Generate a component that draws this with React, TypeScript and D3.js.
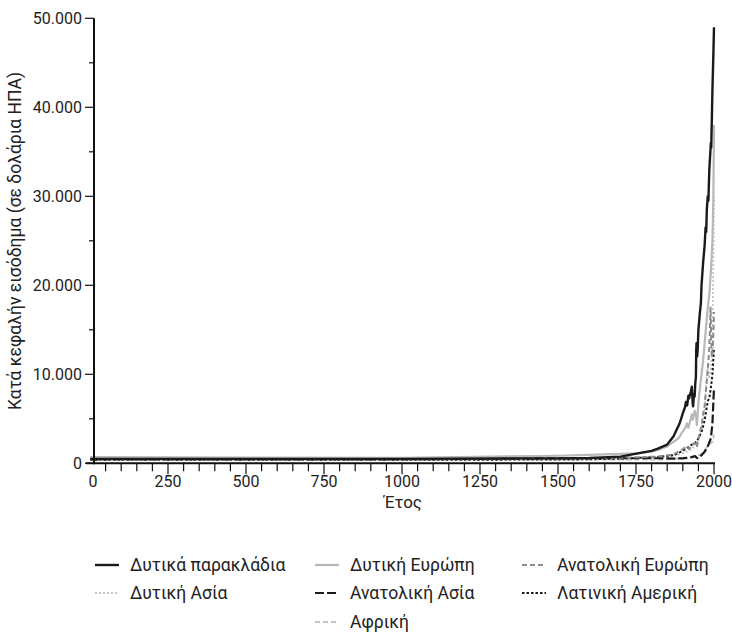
import React from "react";
import * as d3 from "d3";

// ---- data (year, per-capita income) ----
const westernOffshoots: [number, number][] = [
  [1, 500], [1000, 500], [1500, 550], [1600, 600], [1700, 750], [1760, 1150], [1800, 1400],
  [1820, 1650], [1850, 2100], [1870, 3000], [1890, 4500], [1900, 5600], [1907, 6300], [1910, 6900],
  [1914, 6500], [1918, 7600], [1920, 7300], [1926, 8100], [1929, 8600], [1932, 6600], [1933, 6400],
  [1936, 7800], [1938, 7500], [1940, 9000], [1942, 9700], [1943, 12600], [1944, 13500], [1946, 12000],
  [1948, 13000], [1950, 15000], [1953, 16200], [1955, 17000], [1958, 18000], [1960, 20000], [1965, 22500],
  [1970, 24500], [1973, 26500], [1975, 26000], [1977, 28500], [1980, 30000], [1982, 29500], [1985, 33000],
  [1990, 36000], [1991, 35500], [1993, 38500], [1995, 42000], [1998, 46000], [2000, 49000],
];
const westernEurope: [number, number][] = [
  [1, 700], [1000, 600], [1500, 850], [1600, 950], [1700, 1050], [1750, 1120], [1800, 1300],
  [1820, 1500], [1850, 1900], [1870, 2400], [1880, 2650], [1890, 3000], [1900, 3600], [1910, 4100],
  [1913, 4500], [1916, 4300], [1918, 4000], [1920, 4300], [1925, 4900], [1929, 5500], [1932, 4900],
  [1935, 5300], [1938, 5900], [1940, 5700], [1943, 5200], [1945, 4300], [1947, 5100], [1950, 6800],
  [1955, 8500], [1960, 10000], [1965, 11500], [1970, 13500], [1975, 15500], [1980, 17500],
  [1985, 19000], [1990, 21500], [1995, 25000], [1998, 30000], [2000, 38000],
];
const easternEurope: [number, number][] = [
  [1, 420], [1000, 420], [1500, 520], [1600, 560], [1700, 620], [1820, 750], [1870, 1000],
  [1900, 1600], [1913, 1900], [1920, 1600], [1929, 2000], [1938, 2300], [1945, 1800], [1950, 2800],
  [1960, 4200], [1965, 5500], [1970, 6500], [1975, 8500], [1980, 10500], [1985, 13000], [1989, 17500],
  [1991, 14000], [1993, 12000], [1995, 12500], [1998, 14500], [2000, 17000],
];
const westernAsia: [number, number][] = [
  [1, 600], [1000, 620], [1500, 580], [1600, 580], [1700, 590], [1820, 700], [1870, 850],
  [1900, 1100], [1913, 1300], [1929, 1600], [1950, 2600], [1960, 3800], [1970, 6000], [1975, 9000],
  [1980, 11000], [1985, 9500], [1990, 10500], [1995, 14000], [2000, 30000],
];
const easternAsia: [number, number][] = [
  [1, 450], [1000, 450], [1500, 560], [1600, 580], [1700, 570], [1820, 570], [1870, 530],
  [1900, 560], [1913, 600], [1929, 700], [1940, 800], [1945, 600], [1950, 560], [1960, 900],
  [1970, 1300], [1980, 1900], [1990, 2800], [1995, 4500], [2000, 8500],
];
const latinAmerica: [number, number][] = [
  [1, 400], [1000, 400], [1500, 420], [1600, 450], [1700, 530], [1820, 700], [1870, 900],
  [1900, 1400], [1913, 1700], [1929, 2100], [1940, 2300], [1950, 2800], [1960, 3500], [1970, 4800],
  [1980, 7000], [1985, 7300], [1990, 8500], [1995, 10000], [2000, 13000],
];
const africa: [number, number][] = [
  [1, 450], [1000, 430], [1500, 420], [1600, 420], [1700, 420], [1820, 430], [1870, 500],
  [1900, 600], [1913, 640], [1929, 750], [1950, 900], [1960, 1100], [1970, 1400], [1980, 2000],
  [1990, 2300], [1995, 2400], [2000, 3200],
];

const yTicks = [0, 10000, 20000, 30000, 40000, 50000];
const yTickLabels = ["0", "10.000", "20.000", "30.000", "40.000", "50.000"];
const xTicks = [0, 250, 500, 750, 1000, 1250, 1500, 1750, 2000];

type Series = { name: string; data: [number, number][]; color: string; width: number; dash: string };
const series: Series[] = [
  { name: "Αφρική", data: africa, color: "#c4c4c4", width: 2, dash: "5,3" },
  { name: "Δυτική Ασία", data: westernAsia, color: "#c4c4c4", width: 1.8, dash: "2,2" },
  { name: "Ανατολική Ασία", data: easternAsia, color: "#1a1a1a", width: 2.2, dash: "9,3" },
  { name: "Λατινική Αμερική", data: latinAmerica, color: "#1a1a1a", width: 2, dash: "2.5,2" },
  { name: "Ανατολική Ευρώπη", data: easternEurope, color: "#8a8a8a", width: 2, dash: "5,3" },
  { name: "Δυτική Ευρώπη", data: westernEurope, color: "#b8b8b8", width: 2.2, dash: "" },
  { name: "Δυτικά παρακλάδια", data: westernOffshoots, color: "#1a1a1a", width: 2.4, dash: "" },
];

const legendOrder: string[][] = [
  ["Δυτικά παρακλάδια", "Δυτική Ευρώπη", "Ανατολική Ευρώπη"],
  ["Δυτική Ασία", "Ανατολική Ασία", "Λατινική Αμερική"],
  ["", "Αφρική", ""],
];

const W = 732, H = 633;
const FONT = "'Roboto', sans-serif";

export default function App() {
  const x = d3.scaleLinear().domain([0, 2000]).range([90, 714]);
  const y = d3.scaleLinear().domain([0, 50000]).range([463.3, 18.3]);
  const line = d3.line<[number, number]>().x((d) => x(d[0])).y((d) => y(d[1]));
  const axisX0 = 94;
  const minorX = d3.range(0, 2001, 50);
  const minorY = d3.range(0, 50001, 5000);
  const colX = [95, 315, 522];
  const rowY = [565, 593, 622];
  const byName = new Map(series.map((s) => [s.name, s]));

  return (
    <svg width={W} height={H} style={{ position: "absolute", left: 0, top: 0, background: "#fff" }} fontFamily={FONT}>
      {series.map((s) => (
        <path key={s.name} d={line(s.data) || ""} fill="none" stroke={s.color} strokeWidth={s.width}
          strokeDasharray={s.dash || undefined} strokeLinejoin="round" />
      ))}
      {/* y axis */}
      <line x1={axisX0} x2={axisX0} y1={y(50000)} y2={y(0) + 1} stroke="#111" strokeWidth={2} />
      {minorY.map((v) => (
        <line key={"my" + v} x1={axisX0 - (v % 10000 === 0 ? 9 : 5)} x2={axisX0} y1={y(v)} y2={y(v)} stroke="#111" strokeWidth={1.2} />
      ))}
      {yTicks.map((v, i) => (
        <text key={"ty" + v} x={axisX0 - 12} y={y(v)} dy="0.36em" textAnchor="end" fontSize={16} fill="#222">{yTickLabels[i]}</text>
      ))}
      {/* x axis */}
      <line x1={axisX0 - 8} x2={x(2000) + 1} y1={y(0)} y2={y(0)} stroke="#111" strokeWidth={2} />
      {minorX.filter((v) => x(v) >= axisX0).map((v) => (
        <line key={"mx" + v} x1={x(v)} x2={x(v)} y1={y(0)} y2={y(0) + (v % 250 === 0 ? 11 : 8)} stroke="#111" strokeWidth={1.2} />
      ))}
      {xTicks.map((v) => (
        <text key={"tx" + v} x={v === 0 ? 93 : x(v)} y={y(0) + 24} textAnchor="middle" fontSize={16} fill="#222">{v}</text>
      ))}
      {/* titles */}
      <text x={403} y={508} textAnchor="middle" fontSize={17} fill="#222">Έτος</text>
      <text transform={`translate(21,${241}) rotate(-90)`} textAnchor="middle" fontSize={17.5} fill="#222">
        Κατά κεφαλήν εισόδημα (σε δολάρια ΗΠΑ)
      </text>
      {/* legend */}
      {legendOrder.map((row, ri) =>
        row.map((name, ci) => {
          if (!name) return null;
          const s = byName.get(name)!;
          const lx = colX[ci], ly = rowY[ri];
          return (
            <g key={name}>
              <line x1={lx} x2={lx + 24} y1={ly} y2={ly} stroke={s.color} strokeWidth={s.width}
                strokeDasharray={s.dash || undefined} />
              <text x={lx + 35} y={ly} dy="0.36em" fontSize={17.5} fill="#222">{name}</text>
            </g>
          );
        })
      )}
    </svg>
  );
}
